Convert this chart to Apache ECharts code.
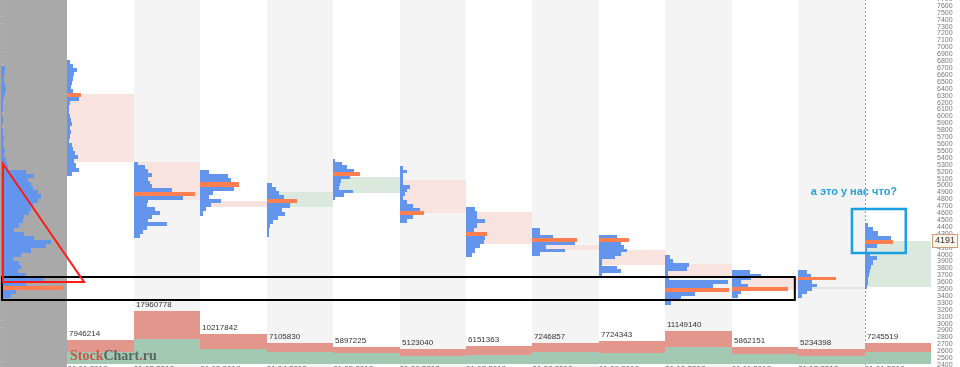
<!DOCTYPE html>
<html><head><meta charset="utf-8">
<script src="https://cdn.jsdelivr.net/npm/echarts@6/dist/echarts.min.js"></script>
<style>html,body{margin:0;padding:0;background:#fff}#c{width:960px;height:367px}</style>
</head><body><div id="c"></div>
<script>
// ---------- data ----------
const months = ['01.01.2018','01.02.2018','01.03.2018','01.04.2018','01.05.2018','01.06.2018','01.07.2018','01.08.2018','01.09.2018','01.10.2018','01.11.2018','01.12.2018','01.01.2019'];
const volumeTotal = [7946214,17960778,10217842,7105830,5897225,5123040,6151363,7246857,7724343,11149140,5862151,5234398,7245519];
const volumeBuy   = [4200000,8400000,5100000,4000000,3600000,2700000,3200000,3900000,3700000,5800000,3300000,2800000,4100000];
const monthOpen  = [6326,5340,4775,4693,4887,5080,4612,4138,4065,3862,3675,3505,3525];
const monthClose = [5340,4790,4693,4910,5119,4606,4148,4065,3848,3675,3490,3525,4191];
const lastPrice = 4191;
// volume profiles: column 0 = whole history, columns 1..13 = months
const profileTop  = [6730,6820,5345,5225,5040,5390,5285,4690,4385,4285,3995,3775,3775,4455];
const profileStep = [60,60,55,60,60,50,55,60,50,50,60,50,50,60];
const profileVolumes = [
  [4,4,3,3,4,5,4,3,2,2,2,1,2,2,1,2,2,3,2,3,4,3,5,6,
   7,25,33,27,30,32,37,40,37,32,30,28,23,22,18,13,23,33,50,45,30,20,12,18,20,17,25,43,25,62,15,10],
  [3,6,10,7,6,5,4,6,14,12,3,2,2,3,4,5,3,4,3,2,5,6,8,11,7,9,12,5],
  [4,11,14,18,14,16,18,38,61,49,14,13,21,26,18,14,33,13,9,6],
  [9,28,31,39,34,13,9,21,11,6,3],
  [5,9,12,17,30,23,15,18,11,6,3,2,2],
  [2,9,14,21,27,17,8,7,6,20,11,2],
  [3,7,3,3,3,10,7,5,3,7,13,20,24,13,7],
  [9,11,11,19,11,8,21,19,18,14,9,6],
  [8,8,21,45,43,14,33,8],
  [18,30,22,25,28,22,16,3,3,18,22,3],
  [5,8,24,22,3,4,63,48,64,30,16,6],
  [18,29,19,9,16,56,9,6],
  [9,13,38,14,19,14,9,4],
  [3,8,13,26,28,12,2,5,12,8,6,5,4,3,3,2]
];
const noteText = 'а это у нас что?';

// ---------- styling / layout constants ----------
const PRICE_MIN = 2300, PRICE_MAX = 7700, COLS = 14;
const profileScale = 1/66.4;   // column widths per volume unit
const VOL_AXIS_MAX = 123e6;
const C_BLUE = '#6495ED', C_POC = '#FF7F50';

// annotation anchors in data space (column, price)
const triangleAnchor = [[0.03,5311],[0.03,3603],[1.25,3603]];
const blackBoxAnchor = [[0.015,3675],[11.95,3342]];
const blueBoxAnchor  = [[12.81,4660],[13.62,4023]];
const noteAnchor = [12.84,4906];

// ---------- build series data ----------
const binData = [], pocData = [];
profileVolumes.forEach((vals, c) => {
  const maxI = vals.indexOf(Math.max.apply(null, vals));
  vals.forEach((v, k) => {
    const hi = profileTop[c] - k*profileStep[c];
    const lo = hi - profileStep[c];
    (k === maxI ? pocData : binData).push([c, hi, lo, v]);
  });
});
const bodyData = monthOpen.map((o,i) => [i+1, o, monthClose[i]]);
const volData = volumeTotal.map((t,i) => [i+1, t, volumeBuy[i]]);
const colData = []; for (let i=0;i<COLS;i++) colData.push([i]);

function rectFrom(a, b, style, snap) {
  let x0 = Math.min(a[0],b[0]), x1 = Math.max(a[0],b[0]);
  let y0 = Math.min(a[1],b[1]), y1 = Math.max(a[1],b[1]);
  if (snap) { x0 = Math.round(x0); x1 = Math.max(x0+1, Math.round(x1)); y0 = Math.round(y0); y1 = Math.max(y0+1, Math.round(y1)); }
  return {type:'rect', shape:{x:x0, y:y0, width:x1-x0, height:y1-y0}, style};
}

const chart = echarts.init(document.getElementById('c'), null, {renderer:'canvas'});
const option = {
  animation:false,
  backgroundColor:'#fff',
  grid:[
    {left:1, right:29, top:-1, bottom:-5, containLabel:false, outerBoundsMode:'none'},
    {left:1, right:29, top:0, bottom:3, containLabel:false, outerBoundsMode:'none'}
  ],
  xAxis:[
    {gridIndex:0, type:'value', min:0, max:COLS, show:false},
    {gridIndex:1, type:'value', min:0, max:COLS, interval:1,
     axisLine:{show:false}, axisTick:{show:false}, splitLine:{show:false},
     axisLabel:{show:true, align:'left', margin:1, fontSize:8, color:'#555', fontFamily:'Liberation Sans',
       formatter:v => (v>=1 && v<=months.length) ? months[v-1] : ''}}
  ],
  yAxis:[
    {gridIndex:0, type:'value', position:'right', min:PRICE_MIN, max:PRICE_MAX, interval:100,
     axisLine:{show:true, lineStyle:{color:'#aaa'}},
     axisTick:{show:true, length:3, lineStyle:{color:'#aaa'}},
     minorTick:{show:true, splitNumber:2, length:2, lineStyle:{color:'#bbb'}},
     splitLine:{show:false},
     axisLabel:{fontSize:7, color:'#777', margin:6, fontFamily:'Liberation Sans', formatter:v => String(v)}},
    {gridIndex:1, type:'value', min:0, max:VOL_AXIS_MAX, show:false}
  ],
  graphic:[{
    type:'text', left:70, top:349, z:50,
    style:{text:'{a|Stock}{b|Chart}{a|.}{b|ru}',
      rich:{a:{fill:'#c4564a', font:'bold 14px "Liberation Serif"'}, b:{fill:'#5c6660', font:'bold 14px "Liberation Serif"'}}}
  }],
  series:[
    { // column shading
      type:'custom', xAxisIndex:0, yAxisIndex:0, z:0, silent:true, data:colData,
      renderItem:(p, api) => {
        const i = api.value(0);
        if (i>0 && i%2===1) return null;
        const a = api.coord([i===0 ? -0.03 : i, PRICE_MAX]);
        const b = api.coord([i+1, PRICE_MIN]);
        return rectFrom(a, b, {fill: i===0 ? '#a9a9a9' : '#f4f4f4'}, true);
      }
    },
    { // dashed line at current month
      type:'custom', xAxisIndex:0, yAxisIndex:0, z:1, silent:true, data:[[13]],
      renderItem:(p, api) => {
        const a = api.coord([api.value(0), PRICE_MAX]), b = api.coord([api.value(0), PRICE_MIN]);
        return {type:'line', shape:{x1:Math.round(a[0])+0.5, y1:a[1], x2:Math.round(b[0])+0.5, y2:b[1]}, style:{stroke:'#999', lineWidth:1, lineDash:[2,2]}};
      }
    },
    { // monthly bodies
      type:'custom', xAxisIndex:0, yAxisIndex:0, z:2, silent:true, data:bodyData,
      renderItem:(p, api) => {
        const i = api.value(0), o = api.value(1), c = api.value(2);
        const a = api.coord([i, o]), b = api.coord([i+1, c]);
        return rectFrom(a, b, {fill: c < o ? '#f8e3df' : '#dbe8de'}, true);
      }
    },
    { // volume bars
      type:'custom', xAxisIndex:1, yAxisIndex:1, z:2, silent:true, data:volData,
      renderItem:(p, api) => {
        const i = api.value(0), t = api.value(1), g = api.value(2);
        const a = api.coord([i, t]), b = api.coord([i+1, 0]), ga = api.coord([i, g]);
        return {type:'group', children:[
          rectFrom(a, b, {fill:'#e2968c'}, true),
          rectFrom(ga, b, {fill:'#a2c9b2'}, true),
          {type:'text', x:Math.round(a[0])+2, y:Math.round(a[1])-2, style:{text:String(t), fill:'#333', font:'8px "Liberation Sans"', verticalAlign:'bottom', align:'left'}}
        ]};
      }
    },
    { // profile bins
      type:'custom', xAxisIndex:0, yAxisIndex:0, z:3, silent:true, data:binData,
      renderItem:(p, api) => {
        const c = api.value(0), hi = api.value(1), lo = api.value(2), v = api.value(3);
        const a = api.coord([c, hi]), b = api.coord([c + v*profileScale, lo]);
        return rectFrom(a, b, {fill:C_BLUE}, true);
      }
    },
    { // POC bins
      type:'custom', xAxisIndex:0, yAxisIndex:0, z:4, silent:true, data:pocData,
      renderItem:(p, api) => {
        const c = api.value(0), hi = api.value(1), lo = api.value(2), v = api.value(3);
        const a = api.coord([c, hi]), b = api.coord([c + v*profileScale, lo]);
        return rectFrom(a, b, {fill:C_POC}, true);
      }
    },
    { // last price tag
      type:'custom', xAxisIndex:0, yAxisIndex:0, z:10, silent:true, data:[[COLS, lastPrice]],
      renderItem:(p, api) => {
        const pt = api.coord([api.value(0), api.value(1)]);
        return {type:'text', x:Math.round(pt[0])+2, y:Math.round(pt[1]), style:{text:String(api.value(1)), fill:'#333', font:'9px "Liberation Sans"',
          verticalAlign:'middle', align:'left', backgroundColor:'#fdf5ec', borderColor:'#c9a07a', borderWidth:1, padding:[2,2,1,2]}};
      }
    },
    { // annotations
      type:'custom', xAxisIndex:0, yAxisIndex:0, z:20, silent:true, data:[[0]],
      renderItem:(p, api) => {
        const tri = triangleAnchor.map(q => api.coord(q));
        const bb0 = api.coord(blackBoxAnchor[0]), bb1 = api.coord(blackBoxAnchor[1]);
        const cb0 = api.coord(blueBoxAnchor[0]), cb1 = api.coord(blueBoxAnchor[1]);
        const nt = api.coord(noteAnchor);
        return {type:'group', children:[
          rectFrom(bb0, bb1, {fill:null, stroke:'#000', lineWidth:2}),
          {type:'polygon', shape:{points:tri}, style:{fill:null, stroke:'#ff1a1a', lineWidth:2}},
          rectFrom(cb0, cb1, {fill:null, stroke:'#1a9fe0', lineWidth:2.5}),
          {type:'text', x:nt[0], y:nt[1], style:{text:noteText, fill:'#2b9fd9', font:'bold 11px "Liberation Sans"', align:'center', verticalAlign:'middle'}}
        ]};
      }
    }
  ]
};
chart.setOption(option);
</script></body></html>
